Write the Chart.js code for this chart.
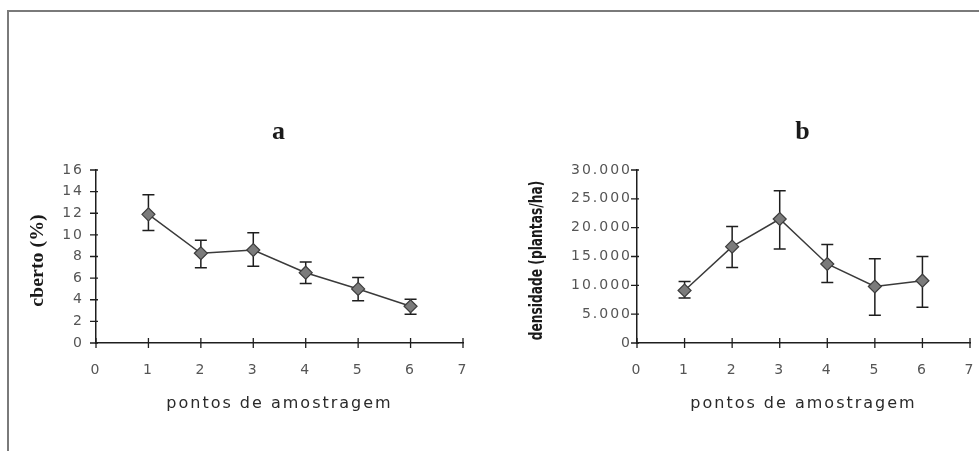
<!DOCTYPE html>
<html lang="pt">
<head>
  <meta charset="UTF-8">
  <title>pontos de amostragem</title>
  <script src="https://cdn.jsdelivr.net/npm/chart.js"></script>
  <style>
    html, body { margin: 0; padding: 0; background: #fff; }
    .page { position: relative; width: 979px; height: 451px; overflow: hidden; }
    .frame {
      position: absolute; left: 7px; top: 10px; width: 1000px; height: 500px;
      border-left: 2px solid #7a7a7a; border-top: 2px solid #7a7a7a;
    }
    #chartA { position: absolute; left: 0; top: 0; }
    #chartB { position: absolute; left: 480px; top: 0; }
  </style>
</head>
<body>
  <div class="page">
    <div class="frame"></div>
    <canvas id="chartA" width="480" height="451"></canvas>
    <canvas id="chartB" width="506" height="451"></canvas>
  </div>

  <script>
    // pontos de amostragem
    const points = [1, 2, 3, 4, 5, 6];
    const xTicks = ['0', '1', '2', '3', '4', '5', '6', '7'];

    // a: cberto (%)
    const meanA  = [11.9, 8.3, 8.6, 6.5, 5.0, 3.4];
    const upperA = [13.7, 9.5, 10.2, 7.5, 6.05, 4.05];
    const lowerA = [10.4, 6.95, 7.1, 5.5, 3.9, 2.65];
    const yTicksA = ['0', '2', '4', '6', '8', '10', '12', '14', '16'];

    // b: densidade (plantas/ha)
    const meanB  = [9100, 16700, 21500, 13700, 9800, 10800];
    const upperB = [10650, 20200, 26400, 17100, 14600, 15000];
    const lowerB = [7800, 13100, 16300, 10500, 4800, 6200];
    const yTicksB = ['0', '5.000', '10.000', '15.000', '20.000', '25.000', '30.000'];

    // error bars, crossing tick marks and the rotated y title
    const extras = {
      id: 'extras',
      beforeDraw(chart) {
        chart.ctx.letterSpacing = '2px';
      },
      beforeDatasetsDraw(chart, args, opts) {
        const ctx = chart.ctx, x = chart.scales.x, y = chart.scales.y;
        ctx.save();
        ctx.strokeStyle = '#1e1e1e';
        ctx.lineWidth = 1.5;
        points.forEach((p, i) => {
          const px = x.getPixelForValue(p);
          const top = y.getPixelForValue(opts.upper[i]);
          const bot = y.getPixelForValue(opts.lower[i]);
          ctx.beginPath();
          ctx.moveTo(px, top); ctx.lineTo(px, bot);
          ctx.moveTo(px - 6, top); ctx.lineTo(px + 6, top);
          ctx.moveTo(px - 6, bot); ctx.lineTo(px + 6, bot);
          ctx.stroke();
        });
        ctx.restore();
      },
      afterDraw(chart, args, opts) {
        const ctx = chart.ctx, x = chart.scales.x, y = chart.scales.y;
        const area = chart.chartArea;
        ctx.save();
        ctx.letterSpacing = '0px';
        ctx.strokeStyle = '#1e1e1e';
        ctx.lineWidth = 1.3;
        ctx.beginPath();
        x.ticks.forEach((t, i) => {
          const px = x.getPixelForTick(i);
          ctx.moveTo(px, area.bottom - 5); ctx.lineTo(px, area.bottom + 5);
        });
        y.ticks.forEach((t, i) => {
          const py = y.getPixelForTick(i);
          ctx.moveTo(area.left - 6, py); ctx.lineTo(area.left + 2, py);
        });
        ctx.stroke();

        ctx.translate(opts.titleX, (area.top + area.bottom) / 2 + 4);
        ctx.rotate(-Math.PI / 2);
        ctx.scale(opts.stretch, 1);
        ctx.font = opts.titleFont;
        ctx.fillStyle = '#1a1a1a';
        ctx.textAlign = 'center';
        ctx.textBaseline = 'middle';
        ctx.fillText(opts.title, 0, 0);
        ctx.restore();
      }
    };

    function makeChart(id, cfg) {
      return new Chart(document.getElementById(id), {
        type: 'line',
        data: {
          datasets: [{
            data: points.map((p, i) => ({ x: p, y: cfg.mean[i] })),
            borderColor: '#3a3a3a',
            borderWidth: 1.5,
            tension: 0,
            pointStyle: 'rectRot',
            pointRadius: 6.5,
            pointBackgroundColor: '#7b7b7b',
            pointBorderColor: '#3d3d3d',
            pointBorderWidth: 1.2
          }]
        },
        options: {
          responsive: false,
          animation: false,
          layout: { padding: { left: 0, right: cfg.padRight, top: 0, bottom: 0 } },
          plugins: {
            legend: { display: false },
            tooltip: { enabled: false },
            title: {
              display: true,
              text: cfg.letter,
              fullSize: false,
              color: '#1a1a1a',
              font: { family: '"Liberation Serif", serif', size: 26, weight: 'bold' },
              padding: { top: 117, bottom: 21.8 }
            },
            extras: {
              upper: cfg.upper, lower: cfg.lower,
              title: cfg.yTitle, titleX: cfg.titleX,
              titleFont: cfg.titleFont, stretch: cfg.stretch
            }
          },
          scales: {
            x: {
              type: 'linear',
              min: 0, max: 7,
              afterFit: s => { s.height = 108; },
              grid: { display: false },
              border: { display: true, color: '#1e1e1e', width: 1.5 },
              ticks: {
                stepSize: 1,
                padding: 11,
                color: '#555',
                font: { family: '"DejaVu Sans", sans-serif', size: 14 },
                callback: (v, i) => xTicks[i]
              },
              title: {
                display: true,
                text: 'pontos de amostragem',
                color: '#2a2a2a',
                font: { family: '"DejaVu Sans", sans-serif', size: 16 },
                padding: { top: 0, bottom: 38 }
              }
            },
            y: {
              min: 0, max: cfg.yMax,
              afterFit: s => { s.width = cfg.yWidth; },
              grid: { display: false },
              border: { display: true, color: '#1e1e1e', width: 1.5 },
              ticks: {
                stepSize: cfg.yStep,
                padding: cfg.tickPad,
                color: '#555',
                font: { family: '"DejaVu Sans", sans-serif', size: 14 },
                callback: (v, i) => cfg.yTicks[i]
              }
            }
          }
        },
        plugins: [extras]
      });
    }

    makeChart('chartA', {
      letter: 'a', mean: meanA, upper: upperA, lower: lowerA,
      yTicks: yTicksA, yMax: 16, yStep: 2,
      yWidth: 96, padRight: 17, tickPad: 4,
      yTitle: 'cberto (%)', titleX: 38, stretch: 1.05,
      titleFont: 'bold 19px "Liberation Serif", serif'
    });

    makeChart('chartB', {
      letter: 'b', mean: meanB, upper: upperB, lower: lowerB,
      yTicks: yTicksB, yMax: 30000, yStep: 5000,
      yWidth: 157, padRight: 16, tickPad: -3,
      yTitle: 'densidade (plantas/ha)', titleX: 58, stretch: 0.8,
      titleFont: 'bold 17px "DejaVu Sans Condensed", sans-serif'
    });
  </script>
</body>
</html>
